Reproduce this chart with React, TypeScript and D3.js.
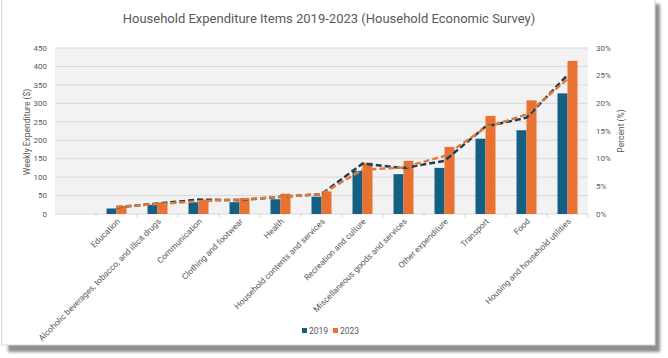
import React from "react";
import * as d3 from "d3";

const categories = [
  "",
  "Education",
  "Alcoholic beverages, tobacco, and illicit drugs",
  "Communication",
  "Clothing and footwear",
  "Health",
  "Household contents and services",
  "Recreation and culture",
  "Miscellaneous goods and services",
  "Other expenditure",
  "Transport",
  "Food",
  "Housing and household utilities",
];
const items = categories.slice(1);

const spend2019 = [15, 25, 32, 32, 40, 47, 117, 108, 125, 204, 227, 327];
const spend2023 = [22, 31, 39, 43, 55, 61, 139, 144, 182, 266, 308, 415];
const pct2019 = [1.2, 1.9, 2.6, 2.5, 3.1, 3.6, 9.1, 8.3, 9.6, 15.8, 17.4, 25.1];
const pct2023 = [1.3, 1.8, 2.3, 2.6, 3.1, 3.6, 8.0, 8.4, 10.5, 15.6, 18.0, 24.4];

const leftTicks = [0, 50, 100, 150, 200, 250, 300, 350, 400, 450];
const rightTicks = [0, 5, 10, 15, 20, 25, 30];

const C_BLUE = "#156082";
const C_ORANGE = "#E97132";
const C_BLUE_LINE = "#1b3f5a";
const C_ORANGE_LINE = "#e07b3c";
const TXT = "#595959";
const FONT = "Roboto, 'Liberation Sans', sans-serif";

export default function App() {
  const W = 668, H = 358;
  const left = 55, right = 588, top = 48, bottom = 214;

  const x = d3.scaleBand<string>().domain(categories).range([left, right]);
  const xs = d3.scaleBand<string>().domain(["2019", "2023"]).range([0, 20]);
  const yL = d3.scaleLinear().domain([0, 450]).range([bottom, top]);
  const yR = d3.scaleLinear().domain([0, 30]).range([bottom, top]);
  const cx = (c: string) => (x(c) as number) + x.bandwidth() / 2;
  const barOff = (x.bandwidth() - 20) / 2;

  const line = d3
    .line<number>()
    .x((_, i) => cx(items[i]))
    .y((d) => yR(d));

  return (
    <svg
      width={W}
      height={H}
      style={{ position: "fixed", left: 0, top: 0, display: "block" }}
      fontFamily={FONT}
    >
      <defs>
        <filter id="sh" x="-5%" y="-5%" width="110%" height="110%">
          <feGaussianBlur stdDeviation="1.6" />
        </filter>
      </defs>
      <rect width={W} height={H} fill="#ffffff" />
      <rect x={8} y={4} width={652} height={348} fill="#8f8f8f" filter="url(#sh)" />
      <rect x={1.5} y={-2} width={653.5} height={347} fill="#ffffff" stroke="#d6d6d6" />

      <text x={329} y={23} textAnchor="middle" fontSize={13} fill={TXT}>
        Household Expenditure Items 2019-2023 (Household Economic Survey)
      </text>

      <rect x={left} y={top} width={right - left} height={bottom - top} fill="#f2f2f2" />
      {leftTicks.map((t) => (
        <line key={t} x1={left} x2={right} y1={yL(t)} y2={yL(t)} stroke="#d9d9d9" strokeWidth={1} />
      ))}
      {categories.map((c, i) =>
        i === 0 ? null : (
          <line key={c} x1={x(c)} x2={x(c)} y1={bottom} y2={bottom + 3} stroke="#d0d0d0" />
        )
      )}
      <line x1={right} x2={right} y1={bottom} y2={bottom + 3} stroke="#d0d0d0" />

      {items.map((c, i) => (
        <g key={c} transform={`translate(${(x(c) as number) + barOff},0)`}>
          <rect x={xs("2019")} y={yL(spend2019[i])} width={xs.bandwidth()} height={bottom - yL(spend2019[i])} fill={C_BLUE} />
          <rect x={xs("2023")} y={yL(spend2023[i])} width={xs.bandwidth()} height={bottom - yL(spend2023[i])} fill={C_ORANGE} />
        </g>
      ))}

      <path d={line(pct2019) || ""} fill="none" stroke={C_BLUE_LINE} strokeWidth={2.5} strokeDasharray="6,3" />
      <path d={line(pct2023) || ""} fill="none" stroke={C_ORANGE_LINE} strokeWidth={2.5} strokeDasharray="6,3" />

      {leftTicks.map((t) => (
        <text key={t} x={47} y={yL(t)} dy="0.35em" textAnchor="end" fontSize={8} fill={TXT}>
          {t}
        </text>
      ))}
      {rightTicks.map((t) => (
        <text key={t} x={596} y={yR(t)} dy="0.35em" textAnchor="start" fontSize={8} fill={TXT}>
          {t}%
        </text>
      ))}

      <text transform="translate(27,132) rotate(-90)" textAnchor="middle" dy="0.35em" fontSize={8.5} fill={TXT}>
        Weekly Expenditure ($)
      </text>
      <text transform="translate(621,131) rotate(-90)" textAnchor="middle" dy="0.35em" fontSize={8.5} fill={TXT}>
        Percent (%)
      </text>

      {items.map((c) => (
        <text
          key={c}
          transform={`translate(${cx(c) + 4},${bottom + 8}) rotate(-45)`}
          textAnchor="end"
          fontSize={8.4}
          fill={TXT}
        >
          {c}
        </text>
      ))}

      <rect x={302} y={328} width={5} height={5} fill={C_BLUE} />
      <text x={309} y={331} dy="0.35em" fontSize={8.5} fill={TXT}>2019</text>
      <rect x={333} y={328} width={5} height={5} fill={C_ORANGE} />
      <text x={340} y={331} dy="0.35em" fontSize={8.5} fill={TXT}>2023</text>
    </svg>
  );
}
